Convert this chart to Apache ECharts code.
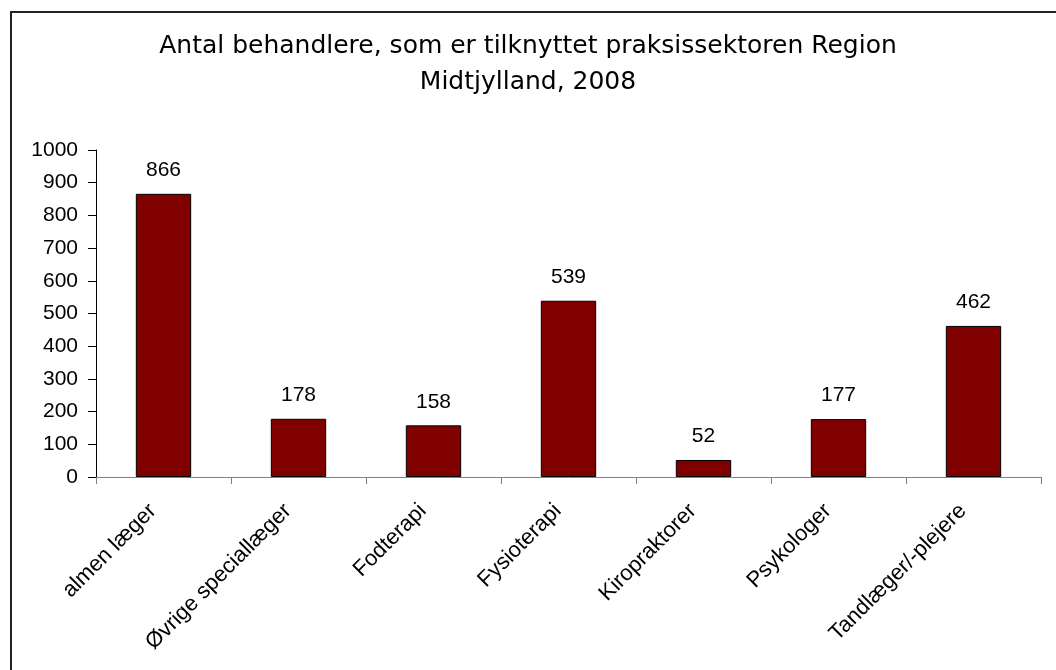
<!DOCTYPE html>
<html>
<head>
<meta charset="utf-8">
<script src="https://cdn.jsdelivr.net/npm/echarts@6/dist/echarts.min.js"></script>
<style>
  html, body { margin: 0; padding: 0; background: #fff; }
  #chart { width: 1056px; height: 670px; }
</style>
</head>
<body>
<div id="chart"></div>
<script>
// data
var categories = ['almen læger', 'Øvrige speciallæger', 'Fodterapi', 'Fysioterapi', 'Kiropraktorer', 'Psykologer', 'Tandlæger/-plejere'];
var values = [866, 178, 158, 539, 52, 177, 462];
var titleText = 'Antal behandlere, som er tilknyttet praksissektoren Region\nMidtjylland, 2008';

var myChart = echarts.init(document.getElementById('chart'));
var option = {
  backgroundColor: '#ffffff',
  animation: false,
  graphic: [
    {
      type: 'rect',
      shape: { x: 11, y: 12, width: 1060, height: 680 },
      style: { fill: 'none', stroke: '#222', lineWidth: 2 }
    }
  ],
  title: {
    text: titleText,
    left: 'center',
    top: 23,
    textStyle: {
      fontFamily: 'DejaVu Sans',
      fontWeight: 'normal',
      fontSize: 25,
      color: '#000',
      lineHeight: 36
    }
  },
  grid: { left: 96, right: 15, top: 150, bottom: 193, containLabel: false },
  xAxis: {
    type: 'category',
    data: categories,
    axisLine: { lineStyle: { color: '#808080', width: 1 } },
    axisTick: { show: true, length: 7, lineStyle: { color: '#808080' } },
    axisLabel: {
      rotate: 45,
      margin: 20,
      padding: [0, 15, 0, 0],
      fontFamily: 'Liberation Sans, Arial',
      fontSize: 22,
      color: '#000'
    }
  },
  yAxis: {
    type: 'value',
    min: 0,
    max: 1000,
    interval: 100,
    splitLine: { show: false },
    axisLine: { show: true, lineStyle: { color: '#000', width: 1 } },
    axisTick: { show: true, length: 8, lineStyle: { color: '#000' } },
    axisLabel: {
      margin: 18,
      formatter: function (v) { return String(v); },
      fontFamily: 'Liberation Sans, Arial',
      fontSize: 21,
      color: '#000'
    }
  },
  series: [
    {
      type: 'bar',
      data: values,
      barWidth: '41%',
      itemStyle: { color: '#800000', borderColor: '#000', borderWidth: 1 },
      label: {
        show: true,
        position: 'top',
        distance: 13,
        fontFamily: 'Liberation Sans, Arial',
        fontSize: 21,
        color: '#000'
      }
    }
  ]
};
myChart.setOption(option);
</script>
</body>
</html>
